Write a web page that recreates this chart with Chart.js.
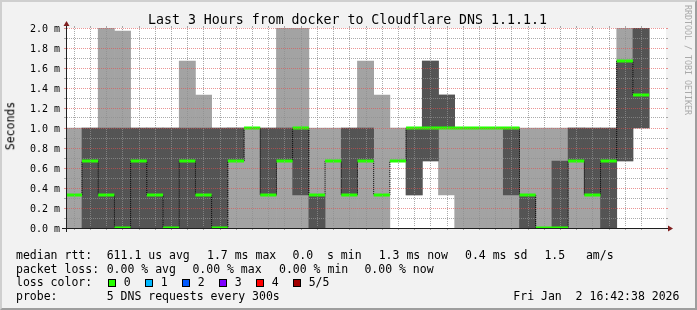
<!DOCTYPE html>
<html><head><meta charset="utf-8">
<script src="https://cdn.jsdelivr.net/npm/chart.js@4.4.1/dist/chart.umd.min.js"></script>
<style>
html,body{margin:0;padding:0;background:#f2f2f2;}
#wrap{position:relative;width:697px;height:310px;overflow:hidden;background:#f2f2f2;font-family:"DejaVu Sans Mono",monospace;color:#000;}
#frame{position:absolute;left:0;top:0;width:697px;height:310px;box-sizing:border-box;border-top:2px solid #cfcfcf;border-left:2px solid #cfcfcf;border-right:2px solid #9e9e9e;border-bottom:2px solid #9e9e9e;}
#c{position:absolute;left:0;top:0;}
.t{position:absolute;white-space:pre;line-height:1;font-size:11.5px;}
#title{position:absolute;left:148px;top:12.5px;font-size:13.25px;line-height:1;white-space:pre;}
#ylab{position:absolute;left:10.5px;top:126px;font-size:11.5px;line-height:1;white-space:pre;transform:translate(-50%,-50%) rotate(-90deg);}
#mark{position:absolute;left:684px;top:5px;font-size:8.3px;line-height:1;white-space:pre;writing-mode:vertical-rl;color:#aaaaaa;}
.box{position:absolute;width:6px;height:6px;border:1px solid #000;}
</style>
</head><body>
<div id="wrap">
<div id="frame"></div>
<canvas id="c" width="697" height="310"></canvas>
<div id="title">Last 3 Hours from docker to Cloudflare DNS 1.1.1.1</div>
<div id="ylab">Seconds</div>
<div id="mark">RRDTOOL / TOBI OETIKER</div>
<div id="legend"></div>
</div>
<script>
// ---- data (values in ms) ----
const windowStart = "13:42:38";
const windowEnd   = "16:42:38";
const stepStart = ["13:40","13:45","13:50","13:55","14:00","14:05","14:10","14:15","14:20","14:25","14:30","14:35",
                   "14:40","14:45","14:50","14:55","15:00","15:05","15:10","15:15","15:20","15:25","15:30","15:35",
                   "15:40","15:45","15:50","15:55","16:00","16:05","16:10","16:15","16:20","16:25","16:30","16:35"];
const pingMin    = [0,0,0,0,0,0,0,0,0,0,0,0, 0,0,0,0,0,0,0,0,0.67,0.33,0.67,0.33, 0,0,0,0,0,0,0,0,0,0,0.67,1.0];
const pingLow    = [0.33,0,0,0,0,0,0,0,0,0,0.67,1.0, 0.33,0.67,0.33,0,0.67,0.33,0.67,0.33,0.67,0.33,0.67,1.0, 1.0,1.0,1.0,0.33,0,0,0,0.67,0.33,0,0.67,1.0];
const pingMedian = [0.33,0.67,0.33,0,0.67,0.33,0,0.67,0.33,0,0.67,1.0, 0.33,0.67,1.0,0.33,0.67,0.33,0.67,0.33,0.67,1.0,1.0,1.0, 1.0,1.0,1.0,1.0,0.33,0,0,0.67,0.33,0.67,1.67,1.33];
const pingHigh   = [0.33,1.0,1.0,1.0,1.0,1.0,1.0,1.0,1.0,1.0,1.0,1.0, 1.0,1.0,1.0,0.33,0.67,1.0,1.0,0.33,0.67,1.0,1.67,1.33, 1.0,1.0,1.0,1.0,0.33,0,0.67,1.0,1.0,1.0,1.67,2.0];
const pingMax    = [1.0,1.0,2.0,1.97,1.0,1.0,1.0,1.67,1.33,1.0,1.0,1.0, 1.0,2.0,2.0,1.0,1.0,1.0,1.67,1.33,1.0,1.0,1.67,1.33, 1.0,1.0,1.0,1.0,1.0,1.0,1.0,1.0,1.0,1.0,2.0,2.0];
const stepMinutes = 5;
const yMax = 2.0;

const lossLabels = ["0","1","2","3","4","5/5"];
const lossColors = ["#26ff00","#00b8ff","#0059ff","#7e00ff","#ff0000","#a10000"];
const statsRows = [
  ["median rtt:",  ["611.1 us avg","1.7 ms max","0.0  s min","1.3 ms now","0.4 ms sd","1.5   am/s"]],
  ["packet loss:", ["0.00 % avg","0.00 % max","0.00 % min","0.00 % now"]],
];
const probeText = "5 DNS requests every 300s";
const stampText = "Fri Jan  2 16:42:38 2026";

// ---- helpers ----
function toMin(s){const p=s.split(':').map(Number);return p[0]*60+p[1]+(p[2]||0)/60;}
const tMin = toMin(windowStart), tMax = toMin(windowEnd);
const starts = stepStart.map(toMin);

const GRID = 'rgba(143,143,143,0.75)';
const MGRID = 'rgba(222,79,79,0.6)';
const AXIS = '#1f1f1f';
const ARROW = '#801f1f';
const isMajorX = v => Math.round(v) % 20 === 0;
const isMajorY = v => Math.round(v*10) % 2 === 0;

const outer = starts.map((s,i)=>({x:s+stepMinutes/2, y: pingMax[i]>pingMin[i]?[pingMin[i],pingMax[i]]:null}));
const inner = starts.map((s,i)=>({x:s+stepMinutes/2, y: pingHigh[i]>pingLow[i]?[pingLow[i],pingHigh[i]]:null}));
const medSeg = [];
starts.forEach((s,i)=>{medSeg.push({x:s,y:pingMedian[i]},{x:s+stepMinutes,y:pingMedian[i]},{x:s+stepMinutes,y:null});});
const medStep = starts.map((s,i)=>({x:s,y:pingMedian[i]}));
medStep.push({x:starts[starts.length-1]+stepMinutes,y:pingMedian[pingMedian.length-1]});

const deco = {
  id:'deco',
  beforeDraw(c){const {ctx,chartArea:a}=c;ctx.save();ctx.fillStyle='#fff';ctx.fillRect(a.left,a.top,a.right-a.left,a.bottom-a.top);ctx.restore();},
  afterDatasetsDraw(c){
    const {ctx,chartArea:a}=c; const xs=c.scales.x, ys=c.scales.y;
    ctx.save(); ctx.lineWidth=1; ctx.setLineDash([1,1]);
    const ln=(x1,y1,x2,y2,col)=>{ctx.strokeStyle=col;ctx.beginPath();ctx.moveTo(x1,y1);ctx.lineTo(x2,y2);ctx.stroke();};
    xs.ticks.forEach(t=>{const px=Math.round(xs.getPixelForValue(t.value)-0.5)+0.5; ln(px,a.top+1,px,a.bottom-1,isMajorX(t.value)?MGRID:GRID);});
    ys.ticks.forEach(t=>{const py=Math.round(ys.getPixelForValue(t.value)-0.5)+0.5; ln(a.left+1,py,a.right-1,py,isMajorY(t.value)?MGRID:GRID);});
    ctx.restore();
  },
  afterDraw(c){
    const {ctx,chartArea:a}=c; const xs=c.scales.x, ys=c.scales.y;
    ctx.save(); ctx.lineWidth=1;
    const ln=(x1,y1,x2,y2,col)=>{ctx.strokeStyle=col;ctx.beginPath();ctx.moveTo(x1,y1);ctx.lineTo(x2,y2);ctx.stroke();};
    xs.ticks.forEach(t=>{const m=isMajorX(t.value);const px=Math.round(xs.getPixelForValue(t.value)-0.5)+0.5;const col=m?MGRID:GRID;
      ln(px,a.bottom,px,a.bottom+(m?3:2),col); ln(px,a.top-2,px,a.top,col);});
    ys.ticks.forEach(t=>{const m=isMajorY(t.value);const py=Math.round(ys.getPixelForValue(t.value)-0.5)+0.5;const col=m?MGRID:GRID;
      ln(a.left-2,py,a.left,py,col); ln(a.right,py,a.right+2,py,col);});
    ln(a.left-4,a.bottom+0.5,a.right+4,a.bottom+0.5,AXIS);
    ln(a.left+0.5,a.bottom+4,a.left+0.5,a.top-4,AXIS);
    ctx.fillStyle=ARROW;
    ctx.beginPath();ctx.moveTo(a.right+2,a.bottom+0.5-3);ctx.lineTo(a.right+2,a.bottom+0.5+3);ctx.lineTo(a.right+7,a.bottom+0.5);ctx.closePath();ctx.fill();
    ctx.beginPath();ctx.moveTo(a.left+0.5-3,a.top-2);ctx.lineTo(a.left+0.5+3,a.top-2);ctx.lineTo(a.left+0.5,a.top-7);ctx.closePath();ctx.fill();
    ctx.restore();
  }
};

const tickFont = {family:'"DejaVu Sans Mono"', size:10};
new Chart(document.getElementById('c'), {
  type:'bar',
  data:{datasets:[
    {type:'line', data:medSeg, borderColor:'#26ff00', borderWidth:3, borderCapStyle:'butt', pointRadius:0, spanGaps:false, clip:0, order:0},
    {type:'line', data:medStep, stepped:true, borderColor:'#000', borderWidth:1, borderDash:[1,1], pointRadius:0, clip:0, order:1},
    {data:inner, backgroundColor:'#545454', borderWidth:0, grouped:false, barPercentage:1, categoryPercentage:1, order:2},
    {data:outer, backgroundColor:'#a3a3a3', borderWidth:0, grouped:false, barPercentage:1, categoryPercentage:1, order:3}
  ]},
  options:{
    responsive:false, animation:false, devicePixelRatio:1,
    layout:{padding:{left:0,top:28,right:31,bottom:0}},
    plugins:{legend:{display:false}, tooltip:{enabled:false}, title:{display:false}},
    scales:{
      x:{type:'linear', min:tMin, max:tMax, afterFit:s=>{s.height=82;},
        ticks:{stepSize:5, includeBounds:false, autoSkip:false, maxRotation:0, minRotation:0, color:'#000', font:tickFont, padding:3,
          callback:v=>{const r=Math.round(v); if(r%20) return ''; return String(Math.floor(r/60)).padStart(2,'0')+':'+String(r%60).padStart(2,'0');}},
        grid:{display:false, drawTicks:false},
        border:{display:false}},
      y:{type:'linear', min:0, max:yMax, afterFit:s=>{s.width=66;},
        ticks:{stepSize:0.1, includeBounds:false, autoSkip:false, color:'#000', font:tickFont, padding:6, labelOffset:1,
          callback:v=>isMajorY(v)?(Math.round(v*10)/10).toFixed(1)+' m':''},
        grid:{display:false, drawTicks:false},
        border:{display:false}}
    }
  },
  plugins:[deco]
});

// ---- legend text ----
const lg = document.getElementById('legend');
function addText(txt,x,cy){const d=document.createElement('div');d.className='t';d.textContent=txt;d.style.left=x+'px';d.style.top=(cy-5.5)+'px';lg.appendChild(d);}
const rowY=[255,269,282.5,296];
const statX=[[106.7,207,292.4,378.7,465,544.4],[106.7,192.4,279,364.4]];
statsRows.forEach((r,ri)=>{addText(r[0],16,rowY[ri]); r[1].forEach((s,si)=>addText(s,statX[ri][si],rowY[ri]));});
addText("loss color:",16,rowY[2]);
lossLabels.forEach((l,i)=>{const bx=108.4+i*37;const b=document.createElement('div');b.className='box';b.style.left=bx+'px';b.style.top=(rowY[2]-4)+'px';b.style.background=lossColors[i];lg.appendChild(b);addText(l,bx+15.3,rowY[2]);});
addText("probe:",16,rowY[3]);
addText(probeText,106.7,rowY[3]);
addText(stampText,513.3,rowY[3]);
</script>
</body></html>
